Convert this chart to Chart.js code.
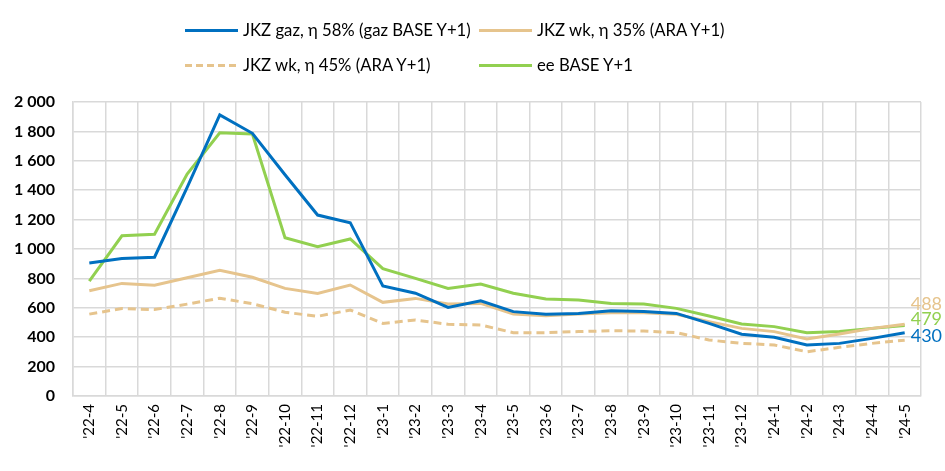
<!DOCTYPE html>
<html>
<head>
<meta charset="utf-8">
<script src="https://cdn.jsdelivr.net/npm/chart.js@4"></script>
<style>
  body { margin: 0; background: #fff; }
  #wrap { position: relative; width: 945px; height: 471px; }
  .lg { position: absolute; font: 16.7px Lato, sans-serif; line-height: 21px; color: #000; white-space: nowrap; }
  .lg i { position: absolute; left: -58px; top: 9px; width: 53px; height: 3px; }
</style>
</head>
<body>
<div id="wrap">
  <canvas id="c" width="945" height="471"></canvas>
  <div class="lg" style="left:243px;top:20px"><i style="background:#0070C0"></i>JKZ gaz, η 58% (gaz BASE Y+1)</div>
  <div class="lg" style="left:537px;top:20px"><i style="background:#E6C48D"></i>JKZ wk, η 35% (ARA Y+1)</div>
  <div class="lg" style="left:243px;top:55px"><i style="background:repeating-linear-gradient(90deg,#E6C48D 0 7px,transparent 7px 11px)"></i>JKZ wk, η 45% (ARA Y+1)</div>
  <div class="lg" style="left:537px;top:55px"><i style="background:#92D050"></i>ee BASE Y+1</div>
</div>
<script>
const months = ["'22-4","'22-5","'22-6","'22-7","'22-8","'22-9","'22-10","'22-11","'22-12",
  "'23-1","'23-2","'23-3","'23-4","'23-5","'23-6","'23-7","'23-8","'23-9","'23-10","'23-11","'23-12",
  "'24-1","'24-2","'24-3","'24-4","'24-5"];
const gaz58 = [905, 935, 944, 1420, 1912, 1787, 1505, 1231, 1179, 748, 699, 603, 648, 574, 556, 562, 580, 574, 562, 494, 420, 399, 347, 358, 392, 430];
const wk35 = [716, 766, 753, 805, 855, 808, 732, 698, 755, 637, 664, 626, 630, 558, 546, 558, 567, 567, 556, 506, 460, 438, 388, 422, 460, 488];
const wk45 = [557, 595, 588, 625, 665, 628, 570, 542, 585, 494, 517, 488, 483, 431, 431, 438, 444, 442, 431, 381, 358, 347, 301, 331, 358, 380];
const eeBase = [782, 1090, 1100, 1510, 1791, 1782, 1077, 1016, 1068, 866, 800, 732, 762, 699, 660, 653, 630, 626, 596, 544, 490, 472, 431, 438, 460, 479];

const BLUE = '#0070C0', TAN = '#E6C48D', GREEN = '#92D050', GRID = '#D9D9D9';

// labels at the end of three series
const endLabels = {
  id: 'endLabels',
  afterDatasetsDraw(chart) {
    const ctx = chart.ctx;
    const items = [[1, TAN, -20], [3, GREEN, -6], [0, BLUE, 3]];
    ctx.save();
    ctx.font = '18px Lato, sans-serif';
    ctx.textBaseline = 'middle';
    items.forEach(([i, col, dy]) => {
      const pts = chart.getDatasetMeta(i).data;
      const p = pts[pts.length - 1];
      const v = chart.data.datasets[i].data[pts.length - 1];
      ctx.fillStyle = col;
      ctx.fillText(v, p.x + 6, p.y + dy);
    });
    ctx.restore();
  }
};

new Chart(document.getElementById('c'), {
  type: 'line',
  data: {
    labels: months,
    datasets: [
      { label: 'JKZ gaz, η 58% (gaz BASE Y+1)', data: gaz58, borderColor: BLUE },
      { label: 'JKZ wk, η 35% (ARA Y+1)', data: wk35, borderColor: TAN },
      { label: 'JKZ wk, η 45% (ARA Y+1)', data: wk45, borderColor: TAN, borderDash: [8, 5] },
      { label: 'ee BASE Y+1', data: eeBase, borderColor: GREEN }
    ]
  },
  options: {
    responsive: false,
    animation: false,
    elements: { line: { borderWidth: 3, tension: 0 }, point: { radius: 0 } },
    layout: { padding: { top: 102, right: 24, left: 0, bottom: 0 } },
    plugins: { legend: { display: false }, tooltip: { enabled: false } },
    scales: {
      x: {
        offset: true,
        grid: { offset: true, color: GRID, lineWidth: 1.5, drawTicks: false },
        border: { color: GRID, width: 1.5 },
        ticks: { maxRotation: 90, minRotation: 90, autoSkip: false, padding: 8, color: '#000',
          font: { family: 'Lato', size: 15 } },
        afterFit(s) { s.height = 75; }
      },
      y: {
        min: 0, max: 2000,
        grid: { color: GRID, lineWidth: 1.5, drawTicks: false },
        border: { color: GRID, width: 1.5 },
        ticks: { stepSize: 200, padding: 18, color: '#000', font: { family: 'Lato', size: 16, weight: 'bold' },
          callback: v => String(v).replace(/\B(?=(\d{3})+(?!\d))/g, ' ') },
        afterFit(s) { s.width = 73; }
      }
    }
  },
  plugins: [endLabels]
});
</script>
</body>
</html>
